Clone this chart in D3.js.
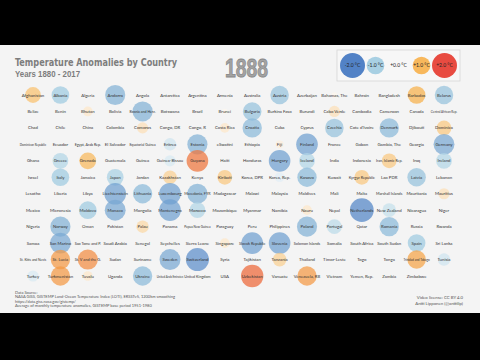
<!DOCTYPE html>
<html><head><meta charset="utf-8">
<script src="https://cdn.jsdelivr.net/npm/d3@7"></script>
<style>html,body{margin:0;padding:0;background:#000;}svg{display:block;}</style>
</head><body>
<script>
const countries = [
"Afghanistan","Albania","Algeria","Andorra","Angola","Antarctica","Argentina","Armenia","Australia","Austria","Azerbaijan","Bahamas, The","Bahrain","Bangladesh","Barbados","Belarus",
"Belize","Benin","Bhutan","Bolivia","Bosnia and Herz.","Botswana","Brazil","Brunei","Bulgaria","Burkina Faso","Burundi","Cabo Verde","Cambodia","Cameroon","Canada","Central African Rep.",
"Chad","Chile","China","Colombia","Comoros","Congo, DR","Congo, R","Costa Rica","Croatia","Cuba","Cyprus","Czechia","Cote d'Ivoire","Denmark","Djibouti","Dominica",
"Dominican Republic","Ecuador","Egypt, Arab Rep.","El Salvador","Equatorial Guinea","Eritrea","Estonia","eSwatini","Ethiopia","Fiji","Finland","France","Gabon","Gambia, The","Georgia","Germany",
"Ghana","Greece","Grenada","Guatemala","Guinea","Guinea-Bissau","Guyana","Haiti","Honduras","Hungary","Iceland","India","Indonesia","Iran, Islamic Rep.","Iraq","Ireland",
"Israel","Italy","Jamaica","Japan","Jordan","Kazakhstan","Kenya","Kiribati","Korea, DPR","Korea, Rep.","Kosovo","Kuwait","Kyrgyz Republic","Lao PDR","Latvia","Lebanon",
"Lesotho","Liberia","Libya","Liechtenstein","Lithuania","Luxembourg","Macedonia, FYR","Madagascar","Malawi","Malaysia","Maldives","Mali","Malta","Marshall Islands","Mauritania","Mauritius",
"Mexico","Micronesia","Moldova","Monaco","Mongolia","Montenegro","Morocco","Mozambique","Myanmar","Namibia","Nauru","Nepal","Netherlands","New Zealand","Nicaragua","Niger",
"Nigeria","Norway","Oman","Pakistan","Palau","Panama","Papua New Guinea","Paraguay","Peru","Philippines","Poland","Portugal","Qatar","Romania","Russia","Rwanda",
"Samoa","San Marino","Sao Tome and P.","Saudi Arabia","Senegal","Seychelles","Sierra Leone","Singapore","Slovak Republic","Slovenia","Solomon Islands","Somalia","South Africa","South Sudan","Spain","Sri Lanka",
"St. Kitts and Nevis","St. Lucia","St. V and the G.","Sudan","Suriname","Sweden","Switzerland","Syria","Tajikistan","Tanzania","Thailand","Timor-Leste","Togo","Tonga","Trinidad and Tobago","Tunisia",
"Turkey","Turkmenistan","Tuvalu","Uganda","Ukraine","United Arab Emirates","United Kingdom","USA","Uzbekistan","Vanuatu","Venezuela, RB","Vietnam","Yemen, Rep.","Zambia","Zimbabwe"
];
const anomalies = [
 0.8,-1.0, 0.0,-1.3, 0.0, 0.0, 0.0, 0.0, 0.0,-1.1, 0.0, 0.1, 0.0, 0.0, 1.0,-1.1,
 0.0, 0.0, 0.3, 0.0,-1.3, 0.0, 0.0, 0.1,-1.1, 0.0, 0.0, 0.4, 0.0, 0.0, 0.0, 0.0,
 0.0, 0.0, 0.0, 0.0, 0.4, 0.0, 0.0, 0.3,-1.2, 0.0, 0.1,-1.1, 0.0,-1.2, 0.0, 0.7,
 0.0, 0.0, 0.0, 0.0, 0.0,-0.5,-1.3, 0.0, 0.0, 0.2,-1.5, 0.0, 0.0, 0.0, 0.0,-1.4,
 0.0,-0.8, 0.9, 0.0, 0.0,-0.4, 1.5, 0.0, 0.0,-1.5,-0.8, 0.1, 0.0, 0.7, 0.0,-0.8,
 0.0,-1.0, 0.0,-0.9, 0.0, 0.6, 0.0, 0.7, 0.0,-0.3,-1.2, 0.0, 0.7, 0.0,-1.1, 0.0,
 0.0, 0.0, 0.0,-1.5,-1.2,-1.5,-1.3, 0.0, 0.0, 0.0, 0.0, 0.0, 0.0, 0.0, 0.0, 0.4,
 0.0, 0.0,-1.0,-1.4, 0.0,-1.5,-0.8, 0.0, 0.0, 0.0, 0.3, 0.0,-1.8,-0.6, 0.0, 0.0,
 0.0,-1.3, 0.0, 0.0, 0.5, 0.0, 0.0, 0.0, 0.0, 0.1,-1.3,-0.7, 0.0,-1.2, 0.0, 0.0,
 0.0,-1.4, 0.0, 0.0, 0.0, 0.0, 0.0, 0.3,-1.5,-1.5, 0.0, 0.0, 0.0, 0.0,-1.0, 0.0,
 0.0, 1.2, 1.3, 0.0, 0.0,-1.4,-1.7, 0.0, 0.0, 0.6, 0.0, 0.0, 0.0, 0.0, 1.1,-0.5,
-0.4, 1.2, 0.3, 0.0,-1.2, 0.0, 0.0, 0.0, 1.6, 0.0, 1.2, 0.0, 0.0, 0.0, 0.0
];
const legendValues = [-2, -1, 0, 1, 2];
const legendLabels = ["-2.0 °C", "-1.0 °C", "+0.0 °C", "+1.0 °C", "+2.0 °C"];
const titleText = "Temperature Anomalies by Country";
const subtitleText = "Years 1880 - 2017";
const yearText = "1888";
const sourceLines = ["Data Source:",
 "NASA GISS, GISTEMP Land-Ocean Temperature Index (LOTI), ERSSTv5, 1200km smoothing",
 "https://data.giss.nasa.gov/gistemp/",
 "Average of monthly temperature anomalies, GISTEMP base period 1951-1980"];
const creditLines = ["Video license: CC BY 4.0", "Antti Lipponen (@anttilip)"];

const W = 480, H = 360;
const svg = d3.select("body").append("svg").attr("width", W).attr("height", H);
svg.append("rect").attr("x",0).attr("y",0).attr("width",W).attr("height",H).attr("fill","#000");
svg.append("rect").attr("x",0).attr("y",45).attr("width",W).attr("height",268).attr("fill","#f4f4f4");

// fit a text element's font size so its natural width equals target
function fitWidth(sel, target, base){
  const n = sel.node();
  const w = n.getComputedTextLength();
  if (w > 0) sel.attr("font-size", base * target / w);
  return sel;
}

const NC = 16, NR = 12;
const x = d3.scalePoint().domain(d3.range(NC)).range([33, 444]);
const y = d3.scalePoint().domain(d3.range(NR)).range([95, 276]);
const color = d3.scaleLinear().domain([-2,-1,0,1,2]).range(["#3f74c0","#9ecbe0","#ffffff","#f7b04a","#e6372c"]).clamp(true);
const r = d3.scaleSqrt().domain([0,2]).range([0,12.5]);

const data = countries.map((c,i)=>({name:c, v:anomalies[i], col:i%NC, row:Math.floor(i/NC)}));

const g = svg.append("g");
g.selectAll("circle").data(data.filter(d=>d.v!==0)).join("circle")
  .attr("cx", d=>x(d.col)).attr("cy", d=>y(d.row)).attr("r", d=>r(Math.abs(d.v)))
  .attr("fill", d=>color(d.v)).attr("fill-opacity", 0.72);
const maxW = x.step() - 1;
g.selectAll("text").data(data).join("text")
  .attr("x", d=>x(d.col)).attr("y", d=>y(d.row)+1.5)
  .attr("text-anchor","middle").attr("font-family","Lato, 'Open Sans', sans-serif")
  .attr("font-size", 4.3).attr("fill","#333").text(d=>d.name)
  .each(function(){
    const w = this.getComputedTextLength();
    if (w > maxW) d3.select(this).attr("font-size", 4.3 * maxW / w);
  });

// Title (fitted to width, slightly stretched vertically like the condensed original)
const tg = svg.append("g").attr("transform","translate(15,66) scale(1,1.15)");
fitWidth(tg.append("text").attr("x",0).attr("y",0).attr("font-family","'Liberation Sans Narrow', 'DejaVu Sans Condensed', sans-serif")
  .attr("font-weight","bold").attr("font-size",14).attr("fill","#7d7d7d").text(titleText), 162, 14);
const sg = svg.append("g").attr("transform","translate(15,77) scale(1,1.15)");
fitWidth(sg.append("text").attr("x",0).attr("y",0).attr("font-family","'Liberation Sans Narrow', sans-serif")
  .attr("font-weight","bold").attr("font-size",9.5).attr("fill","#7d7d7d").text(subtitleText), 65, 9.5);
const yg = svg.append("g").attr("transform","translate(225,77) scale(1,1.3)");
fitWidth(yg.append("text").attr("x",0).attr("y",0).attr("font-family","'Liberation Sans Narrow', sans-serif")
  .attr("font-weight","bold").attr("font-size",30).attr("fill","#a3a3a3").attr("stroke","#888").attr("stroke-width",0.6)
  .text(yearText), 43, 30);

// Legend
const lg = svg.append("g");
lg.append("rect").attr("x",337).attr("y",50).attr("width",123).attr("height",31)
  .attr("fill","#f7f7f7").attr("stroke","#d6d6d6").attr("stroke-width",0.8);
const lx = d3.scalePoint().domain(legendValues).range([352.5, 444.5]);
lg.selectAll("circle").data(legendValues.filter(v=>v!==0)).join("circle")
  .attr("cx", v=>lx(v)).attr("cy",65.5).attr("r", v=>r(Math.abs(v)))
  .attr("fill", v=>color(v)).attr("fill-opacity",0.9);
lg.selectAll("text").data(legendValues).join("text")
  .attr("x", v=>lx(v)).attr("y",67.3).attr("text-anchor","middle")
  .attr("font-family","Lato, sans-serif").attr("font-size",5).attr("fill","#222")
  .text((v,i)=>legendLabels[i]);

// Source
svg.append("g").selectAll("text").data(sourceLines).join("text")
  .attr("x",15).attr("y",(d,i)=>294+i*4.3).attr("font-family","Lato, sans-serif")
  .attr("font-size",4).attr("fill","#555").text(d=>d);
svg.append("g").selectAll("text").data(creditLines).join("text")
  .attr("x",463).attr("y",(d,i)=>299+i*5.5).attr("text-anchor","end").attr("font-family","Lato, sans-serif")
  .attr("font-size",4.3).attr("fill","#555").text(d=>d);
</script>
</body></html>
